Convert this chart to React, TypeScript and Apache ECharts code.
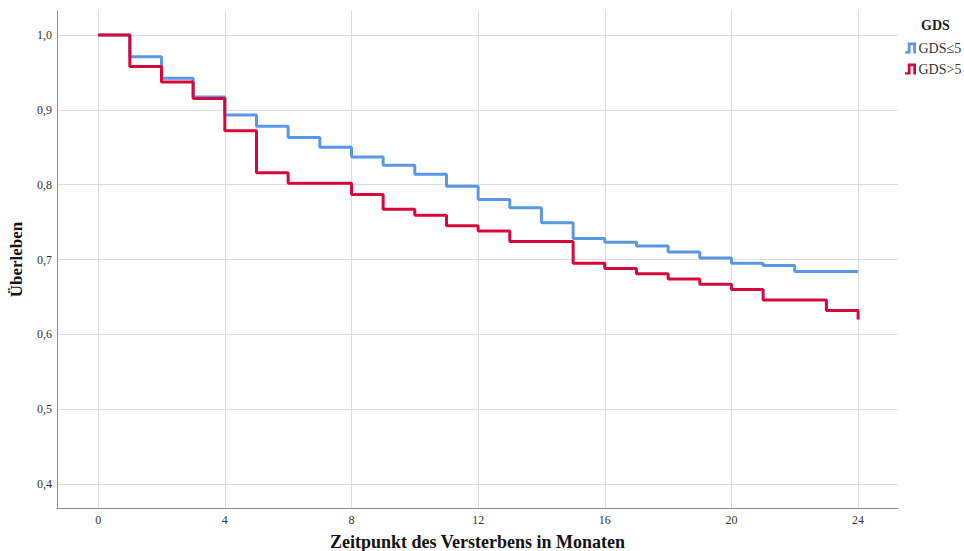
import React, { useEffect, useRef } from "react";
import * as echarts from "echarts";

const timesLow = [0, 1, 2, 3, 4, 5, 6, 7, 8, 9, 10, 11, 12, 13, 14, 15, 16, 17, 18, 19, 20, 21, 22, 24];
const survLow = [1.0, 0.971, 0.942, 0.917, 0.893, 0.878, 0.863, 0.850, 0.837, 0.826, 0.814, 0.798, 0.780, 0.769, 0.749, 0.728, 0.723, 0.718, 0.710, 0.702, 0.695, 0.692, 0.684, 0.684];
const timesHigh = [0, 1, 2, 3, 4, 5, 6, 8, 9, 10, 11, 12, 13, 15, 16, 17, 18, 19, 20, 21, 23, 24];
const survHigh = [1.0, 0.958, 0.937, 0.915, 0.872, 0.816, 0.802, 0.787, 0.767, 0.759, 0.745, 0.738, 0.724, 0.695, 0.688, 0.681, 0.674, 0.667, 0.660, 0.646, 0.632, 0.620];
const xTicks = [0, 4, 8, 12, 16, 20, 24];
const yTicks = [0.4, 0.5, 0.6, 0.7, 0.8, 0.9, 1.0];
const seriesNames = ["GDS≤5", "GDS>5"];
const colors = ["#5B98E3", "#D6083B"];

const stepIcon = "path://M0,8 L2.5,8 L2.5,0 L10,0 L10,10 L7.5,10 L7.5,2.5 L5,2.5 L5,10 L0,10 Z";
const serif = "'Liberation Serif', 'Times New Roman', serif";

export default function App() {
  const ref = useRef<HTMLDivElement>(null);
  useEffect(() => {
    if (!ref.current) return;
    const chart = echarts.init(ref.current, undefined, { renderer: "svg" });
    chart.setOption({
      animation: false,
      textStyle: { fontFamily: serif },
      title: {
        text: "GDS",
        left: 916,
        top: 13,
        textStyle: { fontFamily: serif, fontWeight: "bold", fontSize: 14, color: "#222" },
      },
      legend: {
        orient: "vertical",
        left: 900,
        top: 36,
        itemWidth: 14,
        itemHeight: 11,
        itemGap: 7,
        data: seriesNames.map((n) => ({ name: n, icon: stepIcon })),
        textStyle: { fontFamily: serif, fontSize: 14, color: "#333", padding: [0, 0, 0, -4] },
      },
      grid: { left: 57, right: 66, top: 11, bottom: 43, containLabel: false, outerBoundsMode: "none" },
      xAxis: {
        type: "value",
        min: -1.3,
        max: 25.26,
        name: "Zeitpunkt des Versterbens in Monaten",
        nameLocation: "middle",
        nameGap: 25,
        nameTextStyle: { fontFamily: serif, fontWeight: "bold", fontSize: 18, color: "#111" },
        axisLine: { show: true, onZero: false, lineStyle: { color: "#8c8c8c", width: 1 } },
        axisTick: { show: false, customValues: xTicks },
        axisLabel: { customValues: xTicks, fontFamily: serif, fontSize: 12, color: "#333", margin: 6 },
        splitLine: { show: true, lineStyle: { color: "#dcdcdc", width: 1 } },
      },
      yAxis: {
        type: "value",
        min: 0.368,
        max: 1.032,
        name: "Überleben",
        nameLocation: "middle",
        nameGap: 32,
        nameRotate: 90,
        nameTextStyle: { fontFamily: serif, fontWeight: "bold", fontSize: 17, color: "#111" },
        axisLine: { show: true, onZero: false, lineStyle: { color: "#8c8c8c", width: 1 } },
        axisTick: { show: false, customValues: yTicks },
        axisLabel: {
          customValues: yTicks,
          fontFamily: serif,
          fontSize: 12,
          color: "#333",
          margin: 5,
          formatter: (v: number) => v.toFixed(1).replace(".", ","),
        },
        splitLine: { show: true, lineStyle: { color: "#dcdcdc", width: 1 } },
      },
      series: [
        {
          name: seriesNames[0],
          type: "line",
          step: "end",
          showSymbol: false,
          symbol: "none",
          color: colors[0],
          lineStyle: { width: 3, color: colors[0] },
          data: timesLow.map((t, i) => [t, survLow[i]]),
        },
        {
          name: seriesNames[1],
          type: "line",
          step: "end",
          showSymbol: false,
          symbol: "none",
          color: colors[1],
          lineStyle: { width: 3, color: colors[1] },
          data: timesHigh.map((t, i) => [t, survHigh[i]]),
        },
      ],
    });
    return () => chart.dispose();
  }, []);
  return <div ref={ref} style={{ width: 964, height: 551, position: "absolute", left: 0, top: 0 }} />;
}
